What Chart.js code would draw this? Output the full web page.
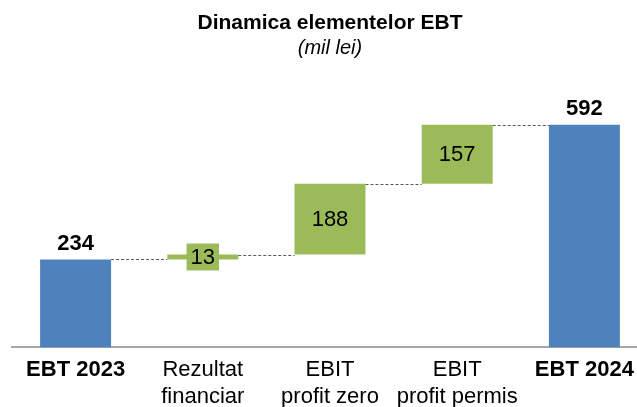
<!DOCTYPE html>
<html>
<head>
<meta charset="utf-8">
<script src="https://cdn.jsdelivr.net/npm/chart.js@4.4.1/dist/chart.umd.min.js"></script>
<style>
  html, body { margin: 0; padding: 0; background: #fff; }
  #wrap { width: 637px; height: 407px; overflow: hidden; position: relative; }
  #chartEbt { position: absolute; left: 0; top: 0; }
</style>
</head>
<body>
<div id="wrap">
  <canvas id="chartEbt" width="650" height="412"></canvas>
</div>
<script>
// date (mil lei)
var categorii = [
    "EBT 2023",
    ["Rezultat", "financiar"],
    ["EBIT", "profit zero"],
    ["EBIT", "profit permis"],
    "EBT 2024"
];
var valori = [234, 13, 188, 157, 592];
var totaluri = [true, false, false, false, true];

var blue = '#4F81BD';
var green = '#9BBB59';
var fontFam = '"Liberation Sans", Arial, sans-serif';

// bare flotante: total de la 0, variatii de la nivelul cumulat
var nivel = 0;
var bare = valori.map(function (v, i) {
    if (totaluri[i]) {
        nivel = v;
        return [0, v];
    }
    var start = nivel;
    nivel = nivel + v;
    return [start, nivel];
});

var etichete = {
    id: 'etichete',
    afterDatasetsDraw: function (chart) {
        var ctx = chart.ctx;
        var meta = chart.getDatasetMeta(0);
        var y = chart.scales.y;
        ctx.save();
        // linii punctate intre bare
        ctx.strokeStyle = '#595959';
        ctx.lineWidth = 1;
        ctx.setLineDash([3, 2]);
        for (var i = 0; i < meta.data.length - 1; i++) {
            var a = meta.data[i], b = meta.data[i + 1];
            var py = Math.round(y.getPixelForValue(bare[i][1])) + 0.5;
            ctx.beginPath();
            ctx.moveTo(a.x + a.width / 2, py);
            ctx.lineTo(b.x - b.width / 2, py);
            ctx.stroke();
        }
        ctx.setLineDash([]);
        ctx.textAlign = 'center';
        ctx.textBaseline = 'middle';
        meta.data.forEach(function (bar, i) {
            var txt = String(valori[i]);
            if (totaluri[i]) {
                ctx.font = 'bold 22px ' + fontFam;
                ctx.fillStyle = '#000';
                ctx.fillText(txt, bar.x, y.getPixelForValue(bare[i][1]) - 16);
            } else {
                ctx.font = '22px ' + fontFam;
                var cy = (y.getPixelForValue(bare[i][0]) + y.getPixelForValue(bare[i][1])) / 2;
                var w = ctx.measureText(txt).width + 8;
                if (Math.abs(y.getPixelForValue(bare[i][0]) - y.getPixelForValue(bare[i][1])) < 28) {
                    ctx.fillStyle = green;
                    ctx.fillRect(bar.x - w / 2, cy - 13.5, w, 27);
                }
                ctx.fillStyle = '#000';
                ctx.fillText(txt, bar.x, cy + 1);
            }
        });
        ctx.restore();
    }
};

new Chart(document.getElementById('chartEbt'), {
    type: 'bar',
    data: {
        labels: categorii,
        datasets: [{
            data: bare,
            backgroundColor: totaluri.map(function (t) { return t ? blue : green; }),
            borderWidth: 0,
            categoryPercentage: 1,
            barPercentage: 0.558
        }]
    },
    options: {
        responsive: false,
        animation: false,
        layout: { padding: { left: 12, right: 2, top: 0, bottom: 0 } },
        plugins: {
            legend: { display: false },
            tooltip: { enabled: false },
            title: {
                display: true,
                text: 'Dinamica elementelor EBT',
                color: '#000',
                font: { family: fontFam, size: 21, weight: 'bold', lineHeight: 1.2 },
                padding: { top: 11, bottom: 0 }
            },
            subtitle: {
                display: true,
                text: '(mil lei)',
                color: '#000',
                font: { family: fontFam, size: 20, style: 'italic', lineHeight: 1.2 },
                padding: { top: 0, bottom: 24 }
            }
        },
        scales: {
            x: {
                grid: { display: false },
                border: { display: true, color: '#A6A6A6', width: 2 },
                ticks: {
                    color: '#000',
                    padding: 1,
                    maxRotation: 0,
                    autoSkip: false,
                    font: function (c) {
                        var tot = totaluri[c.index];
                        return { family: fontFam, size: 22, weight: tot ? 'bold' : 'normal', lineHeight: 1.24 };
                    }
                }
            },
            y: {
                display: false,
                min: 0,
                max: 700
            }
        }
    },
    plugins: [etichete]
});
</script>
</body>
</html>
